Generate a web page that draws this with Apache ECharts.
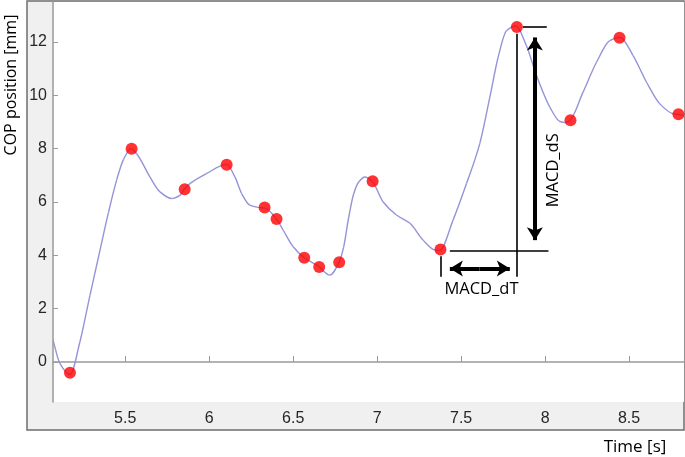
<!DOCTYPE html>
<html>
<head>
<meta charset="utf-8">
<script src="https://cdn.jsdelivr.net/npm/echarts@6/dist/echarts.min.js"></script>
<style>html,body{margin:0;padding:0;background:#fff;}#c{width:685px;height:457px;}</style>
</head>
<body>
<div id="c"></div>
<script>
// Traced COP curve (time in s, position in mm)
var curveT = [5.07,5.11,5.172,5.23,5.29,5.35,5.40,5.45,5.49,5.535,5.568,5.647,5.707,5.776,5.826,5.852,5.885,5.985,6.104,6.153,6.193,6.242,6.29,6.332,6.401,6.44,6.50,6.564,6.655,6.718,6.774,6.80,6.83,6.86,6.89,6.927,6.97,7.036,7.115,7.195,7.274,7.343,7.372,7.452,7.532,7.611,7.671,7.72,7.77,7.826,7.889,7.949,8.028,8.088,8.12,8.147,8.226,8.306,8.385,8.445,8.524,8.604,8.683,8.762,8.826];
var curveY = [0.83,-0.04,-0.47,0.75,2.5,4.2,5.6,6.85,7.6,8.0,7.81,6.94,6.38,6.13,6.25,6.48,6.69,7.07,7.41,6.94,6.32,5.88,5.80,5.77,5.36,4.95,4.32,3.92,3.57,3.26,3.75,4.3,5.4,6.3,6.75,6.94,6.78,6.0,5.51,5.20,4.57,4.20,4.18,5.32,6.69,8.19,9.93,11.42,12.42,12.6,11.86,10.74,9.56,9.02,8.98,9.06,10.12,11.24,12.05,12.18,11.49,10.49,9.68,9.31,9.25];
// Red marked extrema
var dotT = [5.171,5.538,5.854,6.104,6.330,6.401,6.566,6.655,6.774,6.973,7.377,7.832,8.151,8.443,8.794];
var dotY = [-0.40,8.0,6.48,7.40,5.79,5.36,3.91,3.56,3.74,6.78,4.22,12.56,9.07,12.16,9.29];
// Axis ticks
var xTicks = [5.5,6,6.5,7,7.5,8,8.5];
var yTicks = [0,2,4,6,8,10,12];

var curveData = curveT.map(function(t,i){return [t, curveY[i]];});
var dotData = dotT.map(function(t,i){return [t, dotY[i]];});

// Monotone (Fritsch-Carlson) tangents, so the drawn curve is smooth without overshoot
var n = curveT.length, dlt = [], slope = [];
for (var i = 0; i < n - 1; i++) dlt.push((curveY[i+1]-curveY[i])/(curveT[i+1]-curveT[i]));
slope[0] = dlt[0]; slope[n-1] = dlt[n-2];
for (var i = 1; i < n - 1; i++) {
  if (dlt[i-1]*dlt[i] <= 0) slope[i] = 0;
  else {
    var h0 = curveT[i]-curveT[i-1], h1 = curveT[i+1]-curveT[i];
    var w1 = 2*h1 + h0, w2 = h1 + 2*h0;
    slope[i] = (w1 + w2) / (w1/dlt[i-1] + w2/dlt[i]);
  }
}

function renderSeg(params, api){
  var i = params.dataIndex;
  if (i >= n - 1) return null;
  var h = curveT[i+1]-curveT[i];
  var p0 = api.coord([curveT[i], curveY[i]]);
  var c1 = api.coord([curveT[i]+h/3, curveY[i]+slope[i]*h/3]);
  var c2 = api.coord([curveT[i+1]-h/3, curveY[i+1]-slope[i+1]*h/3]);
  var p1 = api.coord([curveT[i+1], curveY[i+1]]);
  return {type:'bezierCurve', shape:{x1:p0[0],y1:p0[1],cpx1:c1[0],cpy1:c1[1],cpx2:c2[0],cpy2:c2[1],x2:p1[0],y2:p1[1]},
          style:{stroke:'#9494d8', fill:null, lineWidth:1.4}};
}

var tS = dotT[11], sTop = dotY[11], tT = dotT[10];

var thin = {color:'#000', width:1.6, type:'solid'};
var thick = {color:'#000', width:4, type:'solid'};
function seg(a, b, style, s1, s2){
  return [{coord:a, symbol:s1||'none', symbolSize:[12,13], lineStyle:style},
          {coord:b, symbol:s2||'none', symbolSize:[12,13]}];
}

var chart = echarts.init(document.getElementById('c'), null, {renderer:'canvas'});
chart.setOption({
  animation:false,
  backgroundColor:'#fff',
  graphic:[
    {type:'rect', z:-10, shape:{x:27,y:1,width:657,height:429}, style:{fill:'#f0f0f0', stroke:'#6e6e6e', lineWidth:1.5}},
    {type:'text', x:11, y:85, rotation:Math.PI/2, style:{text:'COP position [mm]', font:'16px "Open Sans"', fill:'#000', align:'center', verticalAlign:'middle'}},
    {type:'text', x:635, y:447, style:{text:'Time [s]', font:'17px "Open Sans"', fill:'#000', align:'center', verticalAlign:'middle'}}
  ],
  grid:{left:53, right:1, top:2, bottom:55, show:true, backgroundColor:'#fff', borderWidth:0},
  xAxis:{type:'value', min:5.07, max:8.827,
    axisLine:{lineStyle:{color:'#9a9a9a', width:1.5}},
    axisTick:{inside:true, length:6, customValues:xTicks, lineStyle:{color:'#9a9a9a'}},
    axisLabel:{customValues:xTicks, margin:9, color:'#262626', fontSize:16, fontFamily:'"Liberation Sans", Arial'},
    splitLine:{show:false}},
  yAxis:{type:'value', min:-1.5, max:13.5,
    axisLine:{show:true, lineStyle:{color:'#9a9a9a', width:1.5}},
    axisTick:{show:true, inside:true, length:5, customValues:yTicks, lineStyle:{color:'#9a9a9a'}},
    axisLabel:{customValues:yTicks, margin:6, color:'#262626', fontSize:16, fontFamily:'"Liberation Sans", Arial'},
    splitLine:{show:false}},
  series:[
    {type:'custom', name:'COP', data:curveData, renderItem:renderSeg, clip:true, silent:true, z:2},
    {type:'scatter', data:dotData, symbolSize:12, itemStyle:{color:'#ff0000'}, z:5,
     markLine:{silent:true, animation:false, label:{show:false}, emphasis:{disabled:true},
       data:[
         seg([7.867, sTop], [8.010, sTop], thin),
         seg([tS, 12.31], [tS, 3.20], thin),
         seg([7.939, 8.4], [7.939, 12.17], thick, 'none', 'arrow'),
         seg([7.939, 8.4], [7.939, 4.57], thick, 'none', 'arrow'),
         seg([7.433, 4.16], [8.02, 4.16], thin),
         seg([tT, 3.97], [tT, 3.20], thin),
         seg([7.61, 3.51], [7.433, 3.51], thick, 'none', 'arrow'),
         seg([7.61, 3.51], [7.79, 3.51], thick, 'none', 'arrow')
       ]},
     markPoint:{silent:true, symbol:'circle', symbolSize:0, animation:false,
       data:[
         {coord:[8.046, 7.19], label:{show:true, formatter:'MACD_dS', rotate:90, fontSize:16.5, fontFamily:'"Open Sans"', color:'#000', position:'inside'}},
         {coord:[7.621, 2.74], label:{show:true, formatter:'MACD_dT', fontSize:16.5, fontFamily:'"Open Sans"', color:'#000', position:'inside'}}
       ]}
    }
  ]
});
</script>
</body>
</html>
